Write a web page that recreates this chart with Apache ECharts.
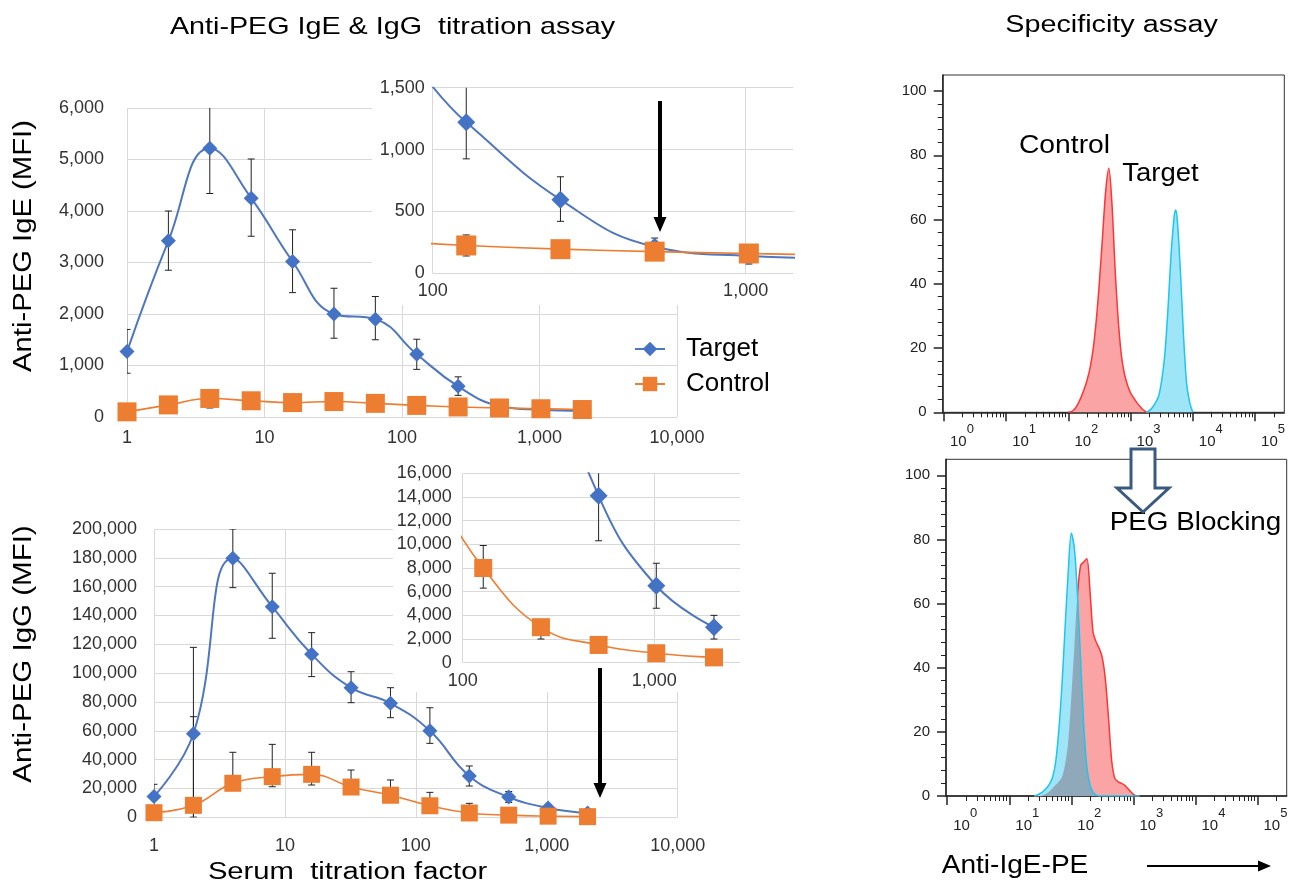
<!DOCTYPE html>
<html><head><meta charset="utf-8">
<script src="https://cdn.jsdelivr.net/npm/echarts@6/dist/echarts.min.js"></script>
<style>html,body{margin:0;padding:0;background:#fff}#chart{width:1294px;height:890px}</style>
</head><body><div id="chart"></div>
<script>
// ---------------- DATA ----------------
const titrationFactor = [1, 2, 4, 8, 16, 32, 64, 128, 256, 512, 1024, 2048];
const titrationTicks = [1, 10, 100, 1000, 10000];
const insetTicks = [100, 1000];

// Anti-PEG IgE (MFI)
const igeTarget      = [1270, 3420, 5220, 4250, 3020, 2000, 1900, 1220, 595, 215, 140, 120];
const igeTargetPlus  = [430, 580, 880, 760, 615, 500, 440, 290, 185, 70, 60, 30];
const igeTargetMinus = [420, 570, 880, 740, 605, 470, 400, 295, 175, 45, 65, 30];
const igeControl      = [100, 235, 360, 315, 280, 300, 265, 225, 195, 175, 160, 145];
const igeControlPlus  = [40, 50, 60, 50, 50, 50, 50, 85, 30, 20, 20, 20];
const igeControlMinus = [40, 50, 185, 50, 50, 50, 50, 85, 30, 20, 20, 20];

// Anti-PEG IgG (MFI)
const iggTarget      = [14500, 58000, 179700, 146100, 113100, 89900, 79100, 60000, 28700, 14100, 6500, 3000];
const iggTargetPlus  = [8400, 59900, 20300, 23200, 15000, 11100, 10800, 16000, 6900, 3800, 1900, 1000];
const iggTargetMinus = [8400, 58000, 20400, 21900, 15500, 10400, 10000, 8700, 7000, 3800, 1900, 1000];
const iggControl      = [3200, 8300, 23600, 28200, 29800, 21000, 15300, 8000, 3000, 1500, 800, 450];
const iggControlPlus  = [2000, 61500, 21500, 22400, 15300, 11800, 10600, 9300, 6700, 500, 300, 200];
const iggControlMinus = [2000, 8300, 3000, 7000, 7400, 3000, 3000, 1700, 1000, 500, 300, 200];
const iggControlPlusInset = [2000, 61500, 21500, 22400, 15300, 11800, 10600, 1900, 300, 300, 200, 150];

// Specificity assay histograms (x in log10 of Anti-IgE-PE intensity, y = % of max)
const histDecades = [0, 1, 2, 3, 4, 5];
const histYTicks = [0, 20, 40, 60, 80, 100];
const histTopControlLog = [2.00, 2.05, 2.10, 2.15, 2.20, 2.25, 2.30, 2.35, 2.40, 2.45, 2.50, 2.55, 2.60, 2.65, 2.70, 2.75, 2.80, 2.85, 2.90, 2.95, 3.00, 3.05, 3.10, 3.15, 3.20, 3.25, 3.30];
const histTopControl    = [0, 0.2, 1, 2.5, 4.5, 7, 10, 14, 20, 29, 41, 55, 69, 76, 65, 45, 29, 18, 12, 8.5, 6, 4.5, 3, 1.8, 0.8, 0.2, 0];
const histTopTargetLog = [3.25, 3.30, 3.35, 3.40, 3.45, 3.50, 3.55, 3.60, 3.65, 3.70, 3.725, 3.75, 3.80, 3.85, 3.90, 3.95, 4.00];
const histTopTarget    = [0, 0.5, 1.5, 3, 5, 10, 18, 32, 49, 61, 63, 60, 44, 24, 9, 3, 0];
const histBlockLog = [1.40, 1.45, 1.50, 1.55, 1.60, 1.65, 1.70, 1.75, 1.80, 1.85, 1.90, 1.95, 2.00, 2.05, 2.10, 2.15, 2.20, 2.25, 2.30, 2.35, 2.40, 2.45, 2.50, 2.55, 2.60, 2.65, 2.70, 2.75, 2.80, 2.85, 2.90, 2.95, 3.00, 3.05, 3.10];
const histBlockTarget  = [0, 0.3, 0.8, 1.5, 2.5, 3.8, 6, 11, 21, 35, 53, 70, 82, 77, 62, 42, 22, 9, 3.5, 1.2, 0.3, 0, 0, 0, 0, 0, 0, 0, 0, 0, 0, 0, 0, 0, 0];
const histBlockControl = [0, 0, 0, 0.3, 0.8, 1.5, 2.5, 3.5, 4.5, 6, 10, 17, 31, 47, 63, 72, 73, 74, 64, 51, 48, 46, 43, 36, 24, 11, 5.5, 4.5, 4, 3.5, 2.5, 1.5, 0.5, 0, 0];

// ---------------- STYLE ----------------
const FONT = "'Liberation Sans', Arial, sans-serif";
const BLUE = '#4472C4', BLUE_LINE = '#4f77bf', ORANGE = '#ED7D31';
const GRIDC = '#d9d9d9';

function fmtComma(v) { return String(Math.round(v)).replace(/\B(?=(\d{3})+(?!\d))/g, ','); }
function pairs(xs, ys) { return xs.map((x, i) => [x, ys[i]]); }

function excelX(gridIndex, min, max, margin, z, custom) {
  const ax = {
    type: 'log', logBase: 10, gridIndex, min, max, z,
    axisLine: { show: false }, axisTick: { show: false },
    axisLabel: { margin, fontSize: 18, color: '#333', fontFamily: FONT, formatter: fmtComma, showMinLabel: true, showMaxLabel: true },
    splitLine: { show: true, lineStyle: { color: GRIDC, width: 1 } }
  };
  if (custom) { ax.axisLabel.customValues = custom; ax.axisTick.customValues = custom; }
  return ax;
}
function excelY(gridIndex, max, interval, margin, z) {
  return {
    type: 'value', gridIndex, min: 0, max, interval, z,
    axisLine: { show: false }, axisTick: { show: false },
    axisLabel: { margin, fontSize: 18, color: '#333', fontFamily: FONT, formatter: fmtComma, showMinLabel: true, showMaxLabel: true },
    splitLine: { show: true, lineStyle: { color: GRIDC, width: 1 } }
  };
}
function errBars(name, xi, means, plus, minus, z) {
  return {
    type: 'custom', name, xAxisIndex: xi, yAxisIndex: xi, z, clip: true, silent: true,
    data: titrationFactor.map((x, i) => [x, means[i] - minus[i], means[i] + plus[i]]),
    encode: { x: 0, y: [1, 2] },
    renderItem: function (params, api) {
      const x = api.value(0);
      const lo = api.coord([x, api.value(1)]);
      const hi = api.coord([x, api.value(2)]);
      const w = 3.5, st = { stroke: '#222', lineWidth: 1 };
      return { type: 'group', children: [
        { type: 'line', shape: { x1: lo[0], y1: lo[1], x2: hi[0], y2: hi[1] }, style: st },
        { type: 'line', shape: { x1: lo[0] - w, y1: lo[1], x2: lo[0] + w, y2: lo[1] }, style: st },
        { type: 'line', shape: { x1: hi[0] - w, y1: hi[1], x2: hi[0] + w, y2: hi[1] }, style: st }
      ]};
    }
  };
}
function curve(name, xi, ys, color, lineColor, symbol, size, width, z) {
  return {
    type: 'line', name, xAxisIndex: xi, yAxisIndex: xi, z, smooth: 0.45,
    data: pairs(titrationFactor, ys), symbol, symbolSize: size, showSymbol: true, showAllSymbol: true,
    itemStyle: { color, borderWidth: 0 }, lineStyle: { color: lineColor, width },
    emphasis: { disabled: true }, silent: true
  };
}

// histogram axes
const minorDecadeTicks = [];
histDecades.forEach(d => { for (let k = 2; k <= 9; k++) { const v = d + Math.log10(k); if (v < 5.47) minorDecadeTicks.push(v); } });
const minorYTicks = [];
for (let v = 4; v < 104; v += 4) if (v % 20 !== 0) minorYTicks.push(v);

function histXAxes(gridIndex) {
  return [{
    type: 'value', gridIndex, min: -0.02, max: 5.47, position: 'bottom',
    axisLine: { show: true, onZero: false, lineStyle: { color: '#222', width: 1.5 } },
    axisTick: { show: true, customValues: histDecades, length: 9, lineStyle: { color: '#222', width: 1.5 } },
    axisLabel: {
      customValues: histDecades, align: 'left', margin: 11, padding: [0, 0, 0, 6],
      formatter: v => '{b|10}{s|' + Math.round(v) + '}',
      rich: {
        b: { fontSize: 15, fontFamily: FONT, color: '#222', verticalAlign: 'bottom', padding: [11, 0, 0, 0] },
        s: { fontSize: 13, fontFamily: FONT, color: '#222', verticalAlign: 'top' }
      }
    },
    splitLine: { show: false }
  }, {
    type: 'value', gridIndex, min: -0.02, max: 5.47, position: 'bottom',
    axisLine: { show: false, onZero: false },
    axisTick: { show: true, customValues: minorDecadeTicks, length: 5, lineStyle: { color: '#222', width: 1 } },
    axisLabel: { show: false }, splitLine: { show: false }
  }];
}
function histYAxes(gridIndex) {
  return [{
    type: 'value', gridIndex, min: 0, max: 105, position: 'left',
    axisLine: { show: true, onZero: false, lineStyle: { color: '#222', width: 1.5 } },
    axisTick: { show: true, customValues: histYTicks, length: 9, lineStyle: { color: '#222', width: 1.5 } },
    axisLabel: { customValues: histYTicks, margin: 16, fontSize: 15, color: '#222', fontFamily: FONT },
    splitLine: { show: false }
  }, {
    type: 'value', gridIndex, min: 0, max: 105, position: 'left',
    axisLine: { show: false, onZero: false },
    axisTick: { show: true, customValues: minorYTicks, length: 5, lineStyle: { color: '#222', width: 1 } },
    axisLabel: { show: false }, splitLine: { show: false }
  }];
}
function histArea(name, xi, data, line, fill, lineWidth, z) {
  return {
    type: 'line', name, xAxisIndex: xi, yAxisIndex: xi, z, smooth: 0.3, showSymbol: false, symbol: 'none',
    data, lineStyle: { color: line, width: lineWidth }, itemStyle: { color: line },
    areaStyle: fill ? { color: fill, opacity: 1 } : undefined, emphasis: { disabled: true }, silent: true
  };
}

function txt(text, x, y, size, scaleX, rotation) {
  return { type: 'text', x, y, rotation: rotation || 0, scaleX, scaleY: 1, z: 20,
    style: { text, fontSize: size, fontFamily: FONT, fill: '#000', align: 'center', verticalAlign: 'middle' } };
}

const overlap = histBlockLog.map((x, i) => [x, Math.min(histBlockTarget[i], histBlockControl[i])]);

const option = {
  animation: false,
  backgroundColor: '#fff',
  grid: [
    { left: 127, top: 108, width: 550, height: 309, outerBoundsMode: 'none' },
    { left: 432.7, top: 87.7, width: 360.6, height: 185.6, outerBoundsMode: 'none' },
    { left: 154, top: 529, width: 523.7, height: 288.3, outerBoundsMode: 'none' },
    { left: 462.7, top: 473.3, width: 277.3, height: 189.4, outerBoundsMode: 'none' },
    { left: 942.7, top: 75, width: 341.6, height: 337.3, show: true, borderColor: '#333', borderWidth: 1, outerBoundsMode: 'none' },
    { left: 946, top: 459.3, width: 340.7, height: 336.7, show: true, borderColor: '#333', borderWidth: 1, outerBoundsMode: 'none' }
  ],
  xAxis: [
    excelX(0, 1, 10000, 12, 0),
    excelX(1, 100, 1420, 9, 2, insetTicks),
    excelX(2, 1, 10000, 20, 0),
    excelX(3, 100, 2800, 9, 2, insetTicks),
    ...histXAxes(4),
    ...histXAxes(5)
  ],
  yAxis: [
    excelY(0, 6000, 1000, 23, 0),
    excelY(1, 1500, 500, 8, 2),
    excelY(2, 200000, 20000, 17, 0),
    excelY(3, 16000, 2000, 11, 2),
    ...histYAxes(4),
    ...histYAxes(5)
  ],
  legend: {
    data: ['Target', 'Control'], selectedMode: false, orient: 'vertical',
    left: 629, top: 331, itemWidth: 30, itemHeight: 18, itemGap: 9,
    textStyle: { fontSize: 26, color: '#000', fontFamily: FONT, padding: [0, 0, 0, 16] }
  },
  series: [
    curve('Target', 0, igeTarget, BLUE, BLUE_LINE, 'diamond', 15, 2, 3),
    curve('Control', 0, igeControl, ORANGE, ORANGE, 'rect', 19, 1.6, 3),
    errBars('IgE target SD', 0, igeTarget, igeTargetPlus, igeTargetMinus, 2),
    errBars('IgE control SD', 0, igeControl, igeControlPlus, igeControlMinus, 2),

    errBars('IgE target SD inset', 1, igeTarget, igeTargetPlus, igeTargetMinus, 3),
    errBars('IgE control SD inset', 1, igeControl, igeControlPlus, igeControlMinus, 3),
    curve('Target', 1, igeTarget, BLUE, BLUE_LINE, 'diamond', 18, 2, 4),
    curve('Control', 1, igeControl, ORANGE, ORANGE, 'rect', 20, 1.6, 4),

    errBars('IgG target SD', 2, iggTarget, iggTargetPlus, iggTargetMinus, 2),
    errBars('IgG control SD', 2, iggControl, iggControlPlus, iggControlMinus, 2),
    curve('Target', 2, iggTarget, BLUE, BLUE_LINE, 'diamond', 15, 2, 3),
    curve('Control', 2, iggControl, ORANGE, ORANGE, 'rect', 17, 1.6, 3),

    errBars('IgG target SD inset', 3, iggTarget, iggTargetPlus, iggTargetMinus, 3),
    errBars('IgG control SD inset', 3, iggControl, iggControlPlusInset, iggControlMinus, 3),
    curve('Target', 3, iggTarget, BLUE, BLUE_LINE, 'diamond', 18, 2, 4),
    curve('Control', 3, iggControl, ORANGE, ORANGE, 'rect', 18, 1.6, 4),

    histArea('Control histogram', 4, pairs(histTopControlLog, histTopControl), '#ff3434', '#fba4a5', 1.5, 2),
    histArea('Target histogram', 4, pairs(histTopTargetLog, histTopTarget), '#1cc6f0', '#9fe5f8', 1.5, 3),

    histArea('Control + PEG', 6, pairs(histBlockLog, histBlockControl), '#ff3434', '#fba4a5', 1.5, 2),
    histArea('Target + PEG fill', 6, pairs(histBlockLog, histBlockTarget), 'rgba(0,0,0,0)', '#9fe5f8', 0, 3),
    histArea('Overlap', 6, overlap, 'rgba(0,0,0,0)', '#8fa9bb', 0, 4),
    histArea('Target + PEG', 6, pairs(histBlockLog, histBlockTarget), '#1cc6f0', null, 1.5, 5)
  ],
  graphic: { elements: [
    { type: 'rect', z: 1, shape: { x: 372, y: 76, width: 428, height: 229 }, style: { fill: '#fff' } },
    { type: 'rect', z: 1, shape: { x: 393, y: 462, width: 353, height: 230 }, style: { fill: '#fff' } },

    txt('Anti-PEG IgE & IgG  titration assay', 392.5, 27, 24, 1.196),
    txt('Specificity assay', 1111.5, 26, 23, 1.25),
    txt('Anti-PEG IgE (MFI)', 24, 246, 25, 1.17, Math.PI / 2),
    txt('Anti-PEG IgG (MFI)', 24, 654, 25, 1.18, Math.PI / 2),
    txt('Serum  titration factor', 347.5, 873, 23, 1.27),
    txt('Control', 1064.5, 146, 25, 1.13),
    txt('Target', 1160.5, 174, 25, 1.1),
    txt('PEG Blocking', 1195.5, 523, 26, 1.07),
    txt('Anti-IgE-PE', 1015, 866, 26, 1.08),

    { type: 'line', z: 20, shape: { x1: 660, y1: 101, x2: 660, y2: 219 }, style: { stroke: '#000', lineWidth: 4 } },
    { type: 'polygon', z: 20, shape: { points: [[653.5, 217], [666.5, 217], [660, 232]] }, style: { fill: '#000' } },
    { type: 'line', z: 20, shape: { x1: 600, y1: 668, x2: 600, y2: 785 }, style: { stroke: '#000', lineWidth: 4 } },
    { type: 'polygon', z: 20, shape: { points: [[593.5, 783], [606.5, 783], [600, 798]] }, style: { fill: '#000' } },
    { type: 'line', z: 20, shape: { x1: 1147, y1: 866, x2: 1260, y2: 866 }, style: { stroke: '#000', lineWidth: 2 } },
    { type: 'polygon', z: 20, shape: { points: [[1258, 860.5], [1258, 871.5], [1271, 866]] }, style: { fill: '#000' } },
    { type: 'polygon', z: 20, shape: { points: [[1131, 449], [1155, 449], [1155, 488], [1169, 488], [1143, 512], [1117, 488], [1131, 488]] },
      style: { fill: '#fff', stroke: '#3b5a80', lineWidth: 3 } }
  ]}
};

const chart = echarts.init(document.getElementById('chart'), null, { renderer: 'canvas' });
chart.setOption(option);
</script></body></html>
